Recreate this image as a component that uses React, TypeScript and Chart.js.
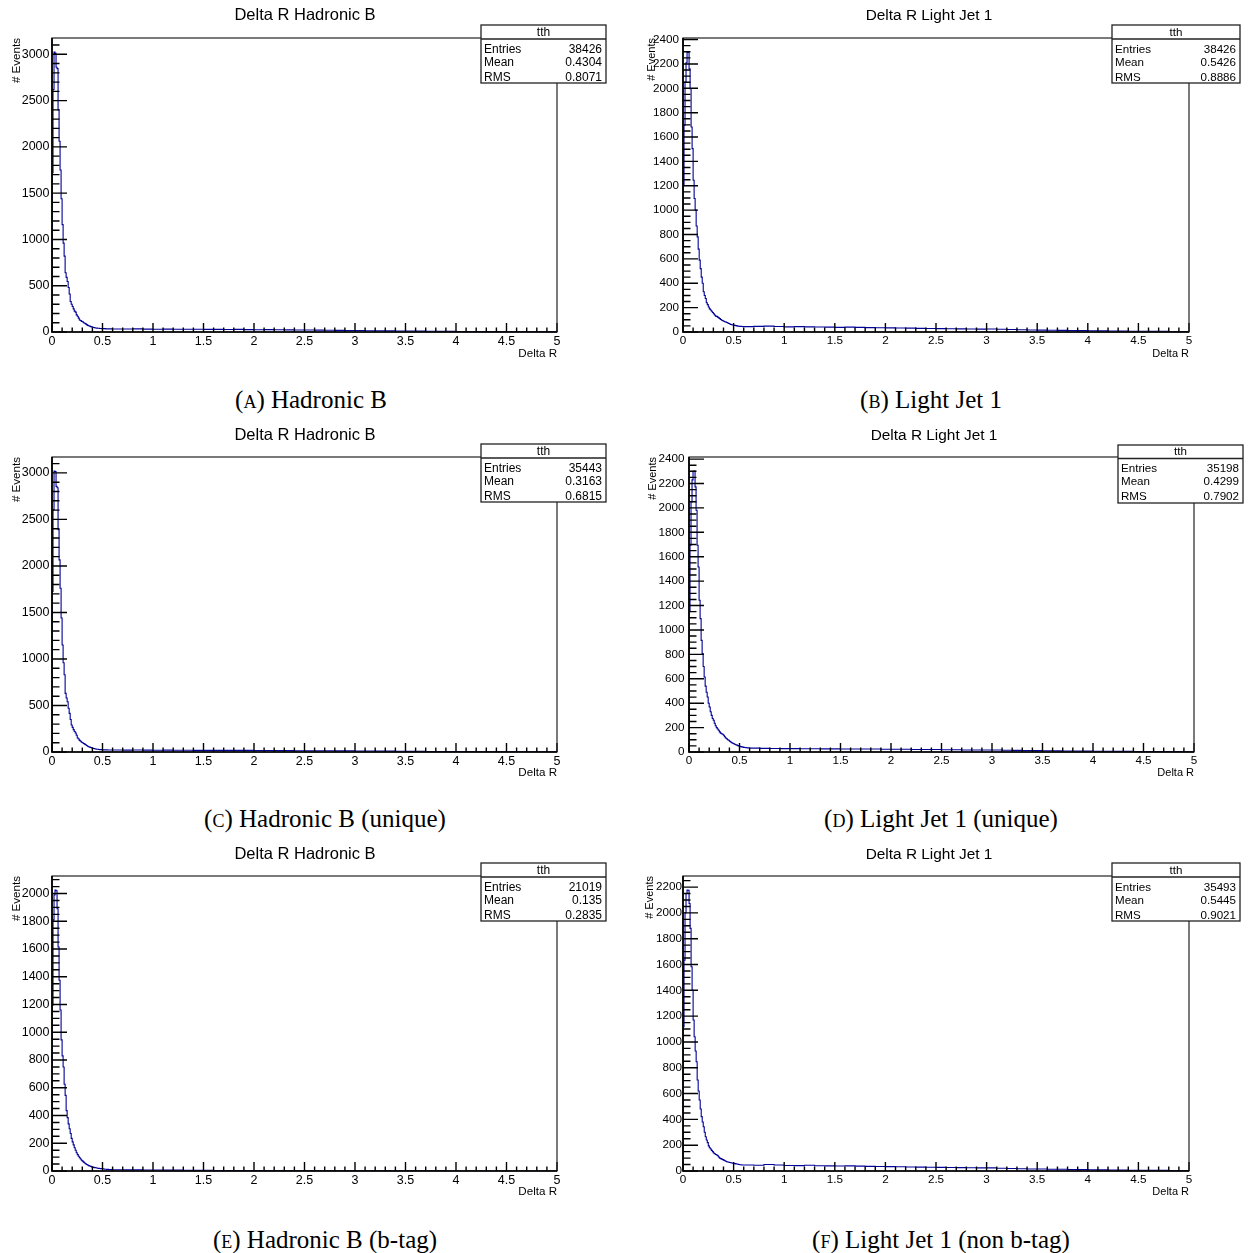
import React, { useEffect, useRef } from 'react';
import { Chart, registerables } from 'chart.js';

Chart.register(...registerables);

const SANS = '"Liberation Sans", Arial, Helvetica, sans-serif';
const SERIF = '"Liberation Serif", "Times New Roman", serif';

// Delta R histograms.  *_fine: contents of the 0.01-wide bins from 0 to 0.6.
// *_tail: mean content per 0.01 bin over each 0.1-wide stretch from 0.6 to 5.0.
const hadB_fine = [
  1720, 2620, 3025, 3010, 2860, 2845, 2400, 2060, 1750, 1440,
  1160, 960, 820, 640, 590, 545, 480, 410, 330, 300,
  275, 250, 225, 215, 185, 170, 150, 130, 125, 115,
  110, 100, 95, 88, 80, 72, 68, 64, 58, 55,
  52, 48, 46, 44, 42, 41, 40, 38, 38, 36,
  37, 35, 36, 34, 35, 33, 35, 34, 33, 34,
];
const hadB_tail = [
  33, 32, 34, 31, 30, 31, 30, 29, 30, 28,
  28, 27, 28, 26, 25, 26, 24, 23, 22, 21,
  20, 19, 18, 17, 16, 14, 13, 12, 11, 10,
  9, 8, 7, 7, 6, 5, 5, 4, 4, 3,
  3, 3, 2, 2,
];

const light_fine = [
  1200, 1697, 2052, 2210, 2295, 2298, 2161, 1997, 1683, 1505,
  1246, 1096, 1000, 870, 781, 680, 590, 520, 450, 400,
  330, 300, 275, 240, 225, 205, 190, 180, 170, 160,
  150, 140, 130, 128, 122, 116, 110, 103, 96, 92,
  88, 84, 82, 78, 74, 70, 66, 62, 60, 58,
  56, 54, 52, 50, 48, 47, 46, 46, 45, 44,
];
const light_tail = [
  44, 46, 48, 45, 42, 44, 42, 41, 40, 38,
  40, 38, 36, 35, 34, 33, 32, 30, 29, 28,
  27, 26, 25, 24, 25, 22, 20, 18, 17, 15,
  14, 13, 12, 11, 10, 9, 8, 7, 6, 6,
  5, 5, 4, 4,
];

const hadBUnique_fine = [
  1725, 2605, 3020, 3015, 2855, 2840, 2390, 2065, 1760, 1440,
  1150, 960, 830, 630, 580, 540, 470, 415, 350, 290,
  265, 240, 220, 205, 180, 150, 140, 125, 115, 105,
  100, 92, 85, 78, 70, 62, 57, 52, 48, 44,
  40, 37, 35, 32, 30, 29, 27, 26, 25, 24,
  24, 23, 23, 22, 23, 22, 21, 22, 21, 21,
];
const hadBUnique_tail = [
  21, 20, 21, 20, 19, 20, 19, 19, 18, 18,
  18, 17, 17, 17, 16, 16, 15, 15, 14, 14,
  13, 13, 12, 12, 11, 10, 9, 9, 8, 7,
  7, 6, 5, 5, 4, 4, 3, 3, 3, 2,
  2, 2, 2, 1,
];

const lightUnique_fine = [
  1150, 1694, 2049, 2230, 2300, 2302, 2172, 1981, 1694, 1516,
  1243, 1093, 915, 806, 700, 615, 540, 490, 451, 400,
  369, 330, 300, 275, 260, 235, 215, 200, 188, 178,
  165, 155, 150, 145, 137, 125, 115, 108, 100, 96,
  88, 82, 76, 72, 68, 64, 60, 56, 52, 49,
  46, 44, 42, 40, 38, 37, 36, 35, 34, 33,
];
const lightUnique_tail = [
  32, 30, 29, 28, 28, 27, 27, 26, 26, 25,
  25, 24, 24, 23, 22, 22, 21, 20, 20, 19,
  18, 17, 16, 16, 17, 14, 13, 12, 11, 10,
  9, 8, 8, 7, 6, 6, 5, 5, 4, 4,
  3, 3, 3, 2,
];

const hadBTag_fine = [
  1195, 1810, 1990, 2025, 2020, 1890, 1615, 1375, 1160, 945,
  830, 750, 625, 545, 435, 385, 340, 305, 270, 235,
  210, 188, 168, 150, 132, 118, 106, 96, 86, 78,
  71, 64, 58, 52, 47, 43, 39, 36, 33, 30,
  28, 26, 24, 23, 22, 20, 19, 18, 17, 16,
  15, 14, 13, 13, 12, 12, 11, 11, 10, 10,
];
const hadBTag_tail = [
  9, 8, 8, 7, 7, 6, 6, 5, 5, 5,
  4, 4, 4, 3, 3, 3, 3, 2, 2, 2,
  2, 2, 1, 1, 1, 1, 1, 1, 1, 1,
  1, 1, 1, 0, 0, 0, 0, 0, 0, 0,
  0, 0, 0, 0,
];

const lightNonTag_fine = [
  1118, 1634, 2000, 2150, 2177, 2175, 2073, 1880, 1583, 1400,
  1170, 1040, 930, 847, 705, 620, 550, 480, 421, 380,
  343, 300, 265, 240, 220, 195, 180, 170, 160, 150,
  140, 134, 128, 124, 118, 108, 100, 96, 92, 88,
  84, 80, 76, 72, 70, 68, 66, 64, 62, 60,
  59, 57, 55, 54, 52, 50, 49, 48, 47, 46,
];
const lightNonTag_tail = [
  46, 44, 50, 46, 43, 42, 44, 41, 40, 39,
  40, 38, 36, 35, 34, 33, 31, 30, 29, 28,
  27, 26, 25, 24, 24, 21, 19, 18, 16, 15,
  14, 13, 12, 11, 10, 9, 8, 7, 6, 6,
  5, 5, 4, 4,
];

// axis tick labels
const xTickValues = [0, 0.5, 1, 1.5, 2, 2.5, 3, 3.5, 4, 4.5, 5];
const yTicksTo3000 = [0, 500, 1000, 1500, 2000, 2500, 3000];
const yTicksTo2400 = [0, 200, 400, 600, 800, 1000, 1200, 1400, 1600, 1800, 2000, 2200, 2400];
const yTicksTo2000 = [0, 200, 400, 600, 800, 1000, 1200, 1400, 1600, 1800, 2000];
const yTicksTo2200 = [0, 200, 400, 600, 800, 1000, 1200, 1400, 1600, 1800, 2000, 2200];

// statistics boxes
const histName = 'tth';
const statNames = ['Entries', 'Mean', 'RMS'];
const statsHadB = ['38426', '0.4304', '0.8071'];
const statsLight = ['38426', '0.5426', '0.8886'];
const statsHadBUnique = ['35443', '0.3163', '0.6815'];
const statsLightUnique = ['35198', '0.4299', '0.7902'];
const statsHadBTag = ['21019', '0.135', '0.2835'];
const statsLightNonTag = ['35493', '0.5445', '0.9021'];

const titleHadB = 'Delta R Hadronic B';
const titleLight = 'Delta R Light Jet 1';
const xAxisTitle = 'Delta R';
const yAxisTitle = '# Events';

const captionTags = ['(a)', '(b)', '(c)', '(d)', '(e)', '(f)'];
const captionTexts = [
  'Hadronic B',
  'Light Jet 1',
  'Hadronic B (unique)',
  'Light Jet 1 (unique)',
  'Hadronic B (b-tag)',
  'Light Jet 1 (non b-tag)',
];

// ---------------------------------------------------------------------------

const CW = 624;
const CH = 375;

type Geo = {
  x: number; y: number;             // canvas position on the page
  fl: number; ft: number; fr: number; fb: number; // frame inside the canvas
  tick: number;                     // tick label size
  titleSize: number; titleX: number; titleBase: number;
  axisTitleSize: number; yTitlePad: number; xTitlePad: number;
  yLabelPad: number; xLabelPad: number;
  box: { l: number; r: number; t: number; h: number; b: number };
  boxFont: number; rows: number[];
};

type PanelProps = {
  fine: number[]; tail: number[]; yTicks: number[]; yMinor: number;
  stats: string[]; title: string; geo: Geo;
};

function histogramPoints(fine: number[], tail: number[]) {
  const pts = [{ x: 0, y: 0 }];
  fine.forEach((v, i) => pts.push({ x: i / 100, y: v }));
  const start = fine.length / 100;
  tail.forEach((v, j) => pts.push({ x: start + j / 10, y: v }));
  pts.push({ x: 5, y: tail[tail.length - 1] });
  return pts;
}

function Panel({ fine, tail, yTicks, yMinor, stats, title, geo }: PanelProps) {
  const ref = useRef<HTMLCanvasElement | null>(null);

  useEffect(() => {
    const canvas = ref.current;
    if (!canvas) return;
    const yMax = 1.05 * Math.max(...fine);
    const tickFont = { family: SANS, size: geo.tick };
    const axisTitleFont = { family: SANS, size: geo.axisTitleSize };

    const rootStyle = {
      id: 'rootStyle',
      afterDatasetsDraw(chart: any) {
        const { ctx, chartArea: a } = chart;
        const xs = chart.scales.x;
        const ys = chart.scales.y;
        ctx.save();
        ctx.strokeStyle = '#000';
        ctx.lineWidth = 1.4;
        ctx.beginPath();
        for (let k = 0; k * yMinor <= ys.max; k++) {
          const v = k * yMinor;
          const py = ys.getPixelForValue(v);
          ctx.moveTo(a.left, py);
          ctx.lineTo(a.left + (yTicks.includes(v) ? 15 : 7.5), py);
        }
        for (let k = 0; k <= 50; k++) {
          const px = xs.getPixelForValue(k / 10);
          ctx.moveTo(px, a.bottom);
          ctx.lineTo(px, a.bottom - (k % 5 === 0 ? 9 : 4.5));
        }
        ctx.stroke();
        ctx.lineWidth = 1.2;
        ctx.strokeStyle = '#222';
        ctx.strokeRect(a.left, a.top, a.right - a.left, a.bottom - a.top);
        ctx.lineWidth = 1.7;
        ctx.strokeStyle = '#000';
        ctx.beginPath();
        ctx.moveTo(a.left, a.top);
        ctx.lineTo(a.left, a.bottom);
        ctx.lineTo(a.right, a.bottom);
        ctx.stroke();
        ctx.restore();
      },
      afterDraw(chart: any) {
        const { ctx } = chart;
        ctx.save();
        // histogram title
        ctx.fillStyle = '#000';
        ctx.font = `${geo.titleSize}px ${SANS}`;
        ctx.textAlign = 'center';
        ctx.textBaseline = 'alphabetic';
        ctx.fillText(title, geo.titleX, geo.titleBase);
        // statistics box
        const b = geo.box;
        ctx.fillStyle = '#fff';
        ctx.fillRect(b.l, b.t, b.r - b.l, b.b - b.t);
        ctx.strokeStyle = '#222';
        ctx.lineWidth = 1.3;
        ctx.strokeRect(b.l, b.t, b.r - b.l, b.b - b.t);
        ctx.beginPath();
        ctx.moveTo(b.l, b.h);
        ctx.lineTo(b.r, b.h);
        ctx.stroke();
        ctx.fillStyle = '#000';
        ctx.font = `${geo.boxFont}px ${SANS}`;
        ctx.textBaseline = 'middle';
        ctx.textAlign = 'center';
        ctx.fillText(histName, (b.l + b.r) / 2, geo.rows[0]);
        statNames.forEach((name, i) => {
          ctx.textAlign = 'left';
          ctx.fillText(name, b.l + 3, geo.rows[i + 1]);
          ctx.textAlign = 'right';
          ctx.fillText(stats[i], b.r - 4, geo.rows[i + 1]);
        });
        ctx.restore();
      },
    };

    const chart = new Chart(canvas, {
      type: 'line',
      data: {
        datasets: [
          {
            data: histogramPoints(fine, tail),
            borderColor: '#00009a',
            borderWidth: 1.1,
            pointRadius: 0,
            stepped: 'before',
            fill: false,
            tension: 0,
          },
        ],
      },
      options: {
        responsive: false,
        animation: false,
        events: [],
        layout: { padding: { left: 0, top: geo.ft, right: CW - geo.fr, bottom: 0 } },
        plugins: {
          legend: { display: false },
          tooltip: { enabled: false },
          title: { display: false },
        },
        scales: {
          x: {
            type: 'linear',
            min: 0,
            max: 5,
            afterBuildTicks: (s: any) => {
              s.ticks = xTickValues.map((v) => ({ value: v }));
            },
            afterFit: (s: any) => {
              s.height = CH - geo.fb;
            },
            grid: { display: false, drawTicks: false },
            border: { display: false },
            ticks: {
              autoSkip: false,
              maxRotation: 0,
              minRotation: 0,
              padding: geo.xLabelPad,
              color: '#000',
              font: tickFont,
              callback: (v: any) => String(v),
            },
            title: {
              display: true,
              text: xAxisTitle,
              align: 'end',
              color: '#000',
              font: axisTitleFont,
              padding: { top: 0, bottom: geo.xTitlePad },
            },
          },
          y: {
            type: 'linear',
            min: 0,
            max: yMax,
            afterBuildTicks: (s: any) => {
              s.ticks = yTicks.map((v) => ({ value: v }));
            },
            afterFit: (s: any) => {
              s.width = geo.fl;
            },
            grid: { display: false, drawTicks: false },
            border: { display: false },
            ticks: {
              autoSkip: false,
              padding: geo.yLabelPad,
              color: '#000',
              font: tickFont,
              callback: (v: any) => String(v),
            },
            title: {
              display: true,
              text: yAxisTitle,
              align: 'end',
              color: '#000',
              font: axisTitleFont,
              padding: { top: geo.yTitlePad, bottom: 0 },
            },
          },
        },
      },
      plugins: [rootStyle],
    } as any);

    return () => chart.destroy();
  }, [fine, tail, yTicks, yMinor, stats, title, geo]);

  return (
    <canvas
      ref={ref}
      width={CW}
      height={CH}
      style={{ position: 'absolute', left: geo.x, top: geo.y, width: CW, height: CH }}
    />
  );
}

const leftCol = {
  tick: 12.5, titleSize: 16.5, titleX: 305, axisTitleSize: 11.6,
  yTitlePad: 10, xTitlePad: 14.5, yLabelPad: 2.5, xLabelPad: 2,
  box: { l: 481, r: 606, t: 25, h: 39, b: 83 }, boxFont: 12,
  rows: [32.5, 49.5, 63, 77.5],
};
const rightCol = {
  tick: 11.7, titleSize: 15.4, titleX: 305, axisTitleSize: 11,
  yTitlePad: 21, xTitlePad: 14.5, yLabelPad: 4, xLabelPad: 2,
  box: { l: 488, r: 616, t: 25, h: 39, b: 83 }, boxFont: 11.6,
  rows: [32.5, 49.5, 63, 77.5],
};

const geoA: Geo = { ...leftCol, x: 0, y: 0, fl: 52, ft: 38, fr: 557, fb: 332, titleBase: 20 };
const geoB: Geo = { ...rightCol, x: 624, y: 0, fl: 59, ft: 38, fr: 565, fb: 332, titleBase: 19.5 };
const geoC: Geo = { ...leftCol, x: 0, y: 419, fl: 52, ft: 38, fr: 557, fb: 333, titleBase: 21 };
const geoD: Geo = {
  ...rightCol, x: 624, y: 419, fl: 65, ft: 38, fr: 570, fb: 333, titleBase: 20.5,
  titleX: 310, yTitlePad: 22.5, yLabelPad: 4.5,
  box: { l: 494, r: 619, t: 26, h: 39.5, b: 84 },
};
const geoE: Geo = { ...leftCol, x: 0, y: 838, fl: 52, ft: 38, fr: 557, fb: 333, titleBase: 21 };
const geoF: Geo = {
  ...rightCol, x: 624, y: 838, fl: 59, ft: 38, fr: 565, fb: 333, titleBase: 21,
  yTitlePad: 19, yLabelPad: 1,
};

const captionCenters = [
  { x: 311, y: 399 },
  { x: 931, y: 399 },
  { x: 325, y: 818 },
  { x: 941, y: 818 },
  { x: 325, y: 1239 },
  { x: 941, y: 1239 },
];

const CAPTION_SIZE = 25;

export default function App() {
  return (
    <div
      style={{
        position: 'absolute', left: 0, top: 0, width: 1248, height: 1253,
        background: '#fff', overflow: 'hidden',
      }}
    >
      <Panel fine={hadB_fine} tail={hadB_tail} yTicks={yTicksTo3000} yMinor={100}
        stats={statsHadB} title={titleHadB} geo={geoA} />
      <Panel fine={light_fine} tail={light_tail} yTicks={yTicksTo2400} yMinor={50}
        stats={statsLight} title={titleLight} geo={geoB} />
      <Panel fine={hadBUnique_fine} tail={hadBUnique_tail} yTicks={yTicksTo3000} yMinor={100}
        stats={statsHadBUnique} title={titleHadB} geo={geoC} />
      <Panel fine={lightUnique_fine} tail={lightUnique_tail} yTicks={yTicksTo2400} yMinor={50}
        stats={statsLightUnique} title={titleLight} geo={geoD} />
      <Panel fine={hadBTag_fine} tail={hadBTag_tail} yTicks={yTicksTo2000} yMinor={50}
        stats={statsHadBTag} title={titleHadB} geo={geoE} />
      <Panel fine={lightNonTag_fine} tail={lightNonTag_tail} yTicks={yTicksTo2200} yMinor={50}
        stats={statsLightNonTag} title={titleLight} geo={geoF} />
      {captionCenters.map((c, i) => (
        <div
          key={i}
          style={{
            position: 'absolute',
            left: c.x - 250,
            top: c.y - 12.5,
            width: 500,
            textAlign: 'center',
            fontFamily: SERIF,
            fontSize: CAPTION_SIZE,
            lineHeight: `${CAPTION_SIZE}px`,
            color: '#000',
            whiteSpace: 'nowrap',
          }}
        >
          <span style={{ fontVariant: 'small-caps' }}>{captionTags[i]}</span> {captionTexts[i]}
        </div>
      ))}
    </div>
  );
}
